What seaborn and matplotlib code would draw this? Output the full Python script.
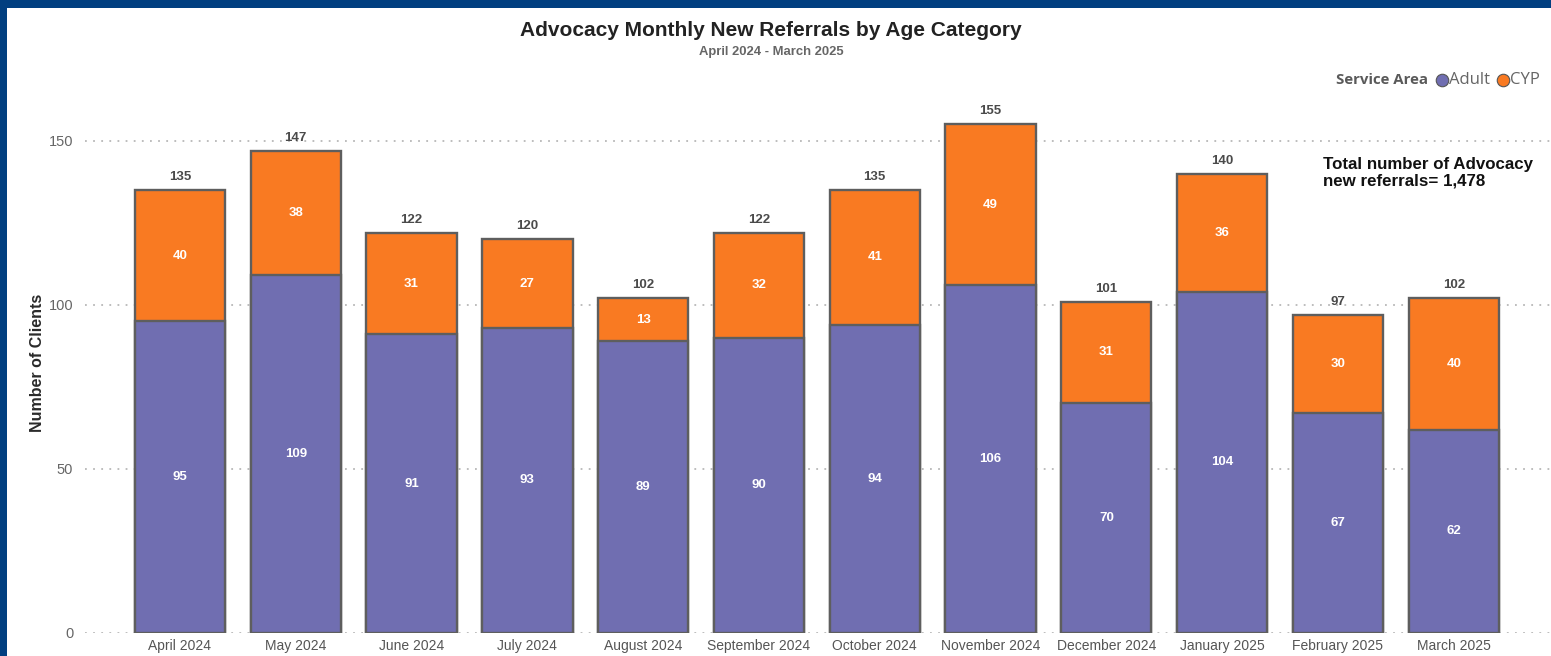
import matplotlib
matplotlib.use("Agg")
import matplotlib.pyplot as plt
import seaborn as sns
import pandas as pd
from matplotlib.patches import Rectangle
from matplotlib.lines import Line2D

# Monthly new referrals, split by service area
months = ["April 2024", "May 2024", "June 2024", "July 2024", "August 2024",
          "September 2024", "October 2024", "November 2024", "December 2024",
          "January 2025", "February 2025", "March 2025"]
adult = [95, 109, 91, 93, 89, 90, 94, 106, 70, 104, 67, 62]
cyp = [40, 38, 31, 27, 13, 32, 41, 49, 31, 36, 30, 40]
totals = [a + c for a, c in zip(adult, cyp)]
y_ticks = [0, 50, 100, 150]

PURPLE = "#706EB1"
ORANGE = "#F97A22"
EDGE = "#5E5E5E"
NAVY = "#013F80"

sns.set_style("white")
plt.rcParams["font.family"] = ["Liberation Sans", "DejaVu Sans"]

df = pd.DataFrame({"Month": months, "Adult": adult, "CYP": cyp, "Total": totals})

W, H = 1551, 656
fig = plt.figure(figsize=(W / 100, H / 100), dpi=100)
fig.patch.set_facecolor("white")

ax = fig.add_axes([85 / W, 23 / H, (W - 85) / W, (633 - 108) / H])
ax.set_axisbelow(True)

# stacked bars: full total in orange, adult share drawn over it in purple
sns.barplot(data=df, x="Month", y="Total", color=ORANGE, saturation=1,
            width=0.78, edgecolor=EDGE, linewidth=1.7, errorbar=None, ax=ax)
sns.barplot(data=df, x="Month", y="Adult", color=PURPLE, saturation=1,
            width=0.78, edgecolor=EDGE, linewidth=1.7, errorbar=None, ax=ax)

ax.set_xlim(-0.82, len(months) - 1 + 0.84)
ax.set_ylim(0, 160)
ax.set_yticks(y_ticks)
ax.yaxis.grid(True, linestyle=(0, (1, 3.5)), color="#B8B8B8", linewidth=1.3)
ax.xaxis.grid(False)
for s in ax.spines.values():
    s.set_visible(False)
ax.tick_params(axis="y", length=0, pad=8.5, labelsize=10.5, labelcolor="#666666")
ax.tick_params(axis="x", length=0, pad=4, labelsize=10, labelcolor="#555555")
ax.set_xlabel("")
ax.set_ylabel("Number of Clients", fontsize=11.5, fontweight="bold", color="#2A2A2A")
ax.yaxis.set_label_coords(-0.027, 0.514)

# segment and total labels
for i in range(len(months)):
    ax.text(i, adult[i] / 2, str(adult[i]), ha="center", va="center",
            color="white", fontsize=9.5, fontweight="bold")
    ax.text(i, adult[i] + cyp[i] / 2, str(cyp[i]), ha="center", va="center",
            color="white", fontsize=9.5, fontweight="bold")
    ax.annotate(str(totals[i]), (i, totals[i]), xytext=(0, 5),
                textcoords="offset points", ha="center", va="bottom",
                color="#4A4A4A", fontsize=9.5, fontweight="bold")

# titles
fig.text(0.497, 1 - 30 / H, "Advocacy Monthly New Referrals by Age Category",
         ha="center", va="center", fontsize=15, fontweight="bold", color="#222222")
fig.text(0.497, 1 - 52 / H, "April 2024 - March 2025",
         ha="center", va="center", fontsize=9.4, fontweight="bold", color="#666666")

# legend
ly = 1 - 80 / H
legend_font = ["Open Sans", "DejaVu Sans"]
fig.text(1428 / W, ly, "Service Area", ha="right", va="center",
         fontsize=10.8, fontweight="bold", color="#5A5A5A", family=legend_font)
fig.add_artist(Line2D([1442 / W], [ly], marker="o", markersize=9,
                      markerfacecolor=PURPLE, markeredgecolor="#555555",
                      markeredgewidth=0.8, transform=fig.transFigure))
fig.text(1449 / W, ly, "Adult", ha="left", va="center", fontsize=12,
         color="#666666", family=legend_font)
fig.add_artist(Line2D([1503 / W], [ly], marker="o", markersize=9,
                      markerfacecolor=ORANGE, markeredgecolor="#555555",
                      markeredgewidth=0.8, transform=fig.transFigure))
fig.text(1510 / W, ly, "CYP", ha="left", va="center", fontsize=12,
         color="#666666", family=legend_font)

# total annotation
fig.text(1323 / W, 1 - 173 / H, "Total number of Advocacy\nnew referrals= 1,478",
         ha="left", va="center", fontsize=12.2, fontweight="bold", color="#111111",
         linespacing=1.1)

# navy frame along top and left edges
fig.add_artist(Rectangle((0, 1 - 8 / H), 1, 8 / H, transform=fig.transFigure,
                         facecolor=NAVY, edgecolor="none", zorder=10))
fig.add_artist(Rectangle((0, 0), 7 / W, 1, transform=fig.transFigure,
                         facecolor=NAVY, edgecolor="none", zorder=10))

fig.savefig("out.png", dpi=100, facecolor="white")
